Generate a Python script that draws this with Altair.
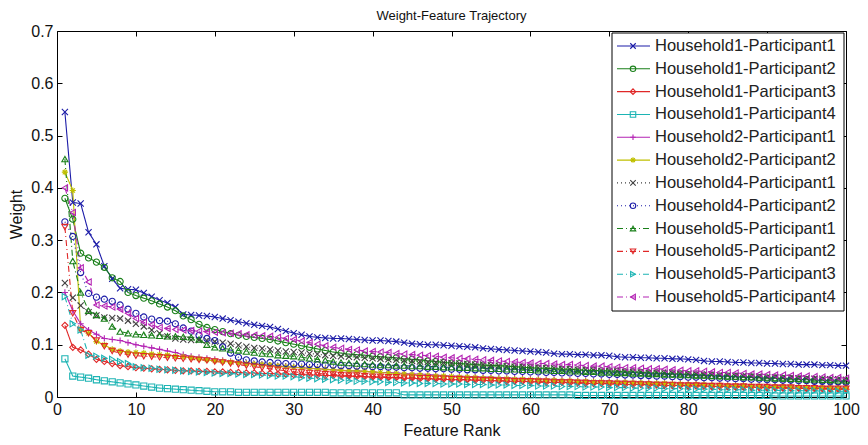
import altair as alt
import pandas as pd

FONT = "Liberation Sans, Arial, Helvetica, sans-serif"

ranks = list(range(1, 101))

series_names = [
    "Household1-Participant1", "Household1-Participant2", "Household1-Participant3",
    "Household1-Participant4", "Household2-Participant1", "Household2-Participant2",
    "Household4-Participant1", "Household4-Participant2", "Household5-Participant1",
    "Household5-Participant2", "Household5-Participant3", "Household5-Participant4",
]

h1p1 = [0.545,0.372,0.370,0.315,0.292,0.250,0.226,0.208,0.206,0.205,
        0.199,0.192,0.185,0.180,0.172,0.158,0.157,0.156,0.155,0.153,
        0.150,0.147,0.144,0.141,0.138,0.136,0.134,0.130,0.126,0.122,
        0.119,0.116,0.114,0.113,0.112,0.112,0.111,0.110,0.109,0.108,
        0.108,0.107,0.106,0.104,0.102,0.101,0.100,0.100,0.099,0.098,
        0.097,0.096,0.095,0.093,0.092,0.091,0.090,0.089,0.088,0.087,
        0.086,0.085,0.083,0.082,0.082,0.081,0.081,0.080,0.080,0.079,
        0.077,0.076,0.076,0.075,0.075,0.074,0.074,0.073,0.073,0.072,
        0.071,0.069,0.068,0.068,0.067,0.066,0.066,0.065,0.065,0.064,
        0.064,0.063,0.063,0.062,0.062,0.062,0.061,0.061,0.060,0.060]

h1p2 = [0.380,0.340,0.275,0.266,0.258,0.248,0.228,0.221,0.200,0.194,
        0.189,0.184,0.178,0.172,0.165,0.155,0.148,0.139,0.133,0.129,
        0.125,0.121,0.118,0.116,0.114,0.112,0.110,0.107,0.104,0.101,
        0.098,0.095,0.092,0.089,0.086,0.084,0.082,0.081,0.080,0.078,
        0.077,0.076,0.075,0.073,0.072,0.071,0.069,0.068,0.066,0.065,
        0.064,0.063,0.062,0.061,0.060,0.060,0.059,0.058,0.057,0.056,
        0.055,0.055,0.054,0.053,0.053,0.052,0.051,0.051,0.050,0.050,
        0.049,0.048,0.048,0.047,0.046,0.046,0.045,0.044,0.044,0.043,
        0.042,0.042,0.041,0.040,0.040,0.039,0.038,0.038,0.037,0.036,
        0.036,0.035,0.034,0.034,0.033,0.032,0.032,0.031,0.030,0.030]

h1p3 = [0.137,0.095,0.090,0.082,0.072,0.068,0.064,0.060,0.058,0.056,
        0.055,0.054,0.053,0.052,0.051,0.050,0.050,0.049,0.049,0.048,
        0.048,0.047,0.047,0.046,0.046,0.045,0.045,0.044,0.044,0.043,
        0.043,0.042,0.042,0.041,0.041,0.040,0.040,0.039,0.039,0.038,
        0.038,0.037,0.037,0.036,0.036,0.035,0.035,0.034,0.034,0.033,
        0.033,0.033,0.032,0.032,0.031,0.031,0.030,0.030,0.030,0.029,
        0.029,0.028,0.028,0.028,0.027,0.027,0.026,0.026,0.026,0.025,
        0.025,0.024,0.024,0.024,0.023,0.023,0.022,0.022,0.022,0.021,
        0.021,0.021,0.020,0.020,0.020,0.019,0.019,0.019,0.018,0.018,
        0.018,0.017,0.017,0.017,0.016,0.016,0.016,0.015,0.015,0.015]

h1p4 = [0.073,0.040,0.038,0.036,0.033,0.031,0.029,0.027,0.025,0.023,
        0.021,0.019,0.017,0.016,0.015,0.014,0.013,0.012,0.011,0.010,
        0.010,0.010,0.009,0.009,0.009,0.009,0.009,0.009,0.009,0.009,
        0.009,0.009,0.009,0.009,0.008,0.008,0.008,0.008,0.008,0.008,
        0.008,0.008,0.008,0.004,0.004,0.004,0.004,0.004,0.004,0.004,
        0.004,0.004,0.004,0.004,0.004,0.004,0.004,0.004,0.004,0.004,
        0.004,0.004,0.004,0.004,0.004,0.003,0.003,0.003,0.003,0.003,
        0.003,0.003,0.003,0.003,0.003,0.003,0.003,0.003,0.003,0.003,
        0.003,0.003,0.003,0.003,0.003,0.003,0.003,0.003,0.003,0.003,
        0.002,0.002,0.002,0.002,0.002,0.002,0.002,0.002,0.002,0.002]

h2p1 = [0.200,0.165,0.140,0.128,0.120,0.112,0.110,0.108,0.104,0.100,
        0.097,0.094,0.091,0.088,0.085,0.081,0.078,0.076,0.074,0.072,
        0.070,0.068,0.066,0.065,0.063,0.062,0.060,0.059,0.058,0.057,
        0.056,0.055,0.054,0.053,0.052,0.051,0.050,0.050,0.049,0.048,
        0.047,0.047,0.046,0.045,0.044,0.044,0.043,0.042,0.041,0.040,
        0.040,0.039,0.039,0.038,0.038,0.037,0.037,0.036,0.036,0.035,
        0.035,0.034,0.034,0.033,0.033,0.032,0.032,0.031,0.031,0.030,
        0.030,0.030,0.029,0.029,0.028,0.028,0.028,0.027,0.027,0.026,
        0.026,0.026,0.025,0.025,0.024,0.024,0.024,0.023,0.023,0.022,
        0.022,0.022,0.021,0.021,0.021,0.020,0.020,0.020,0.019,0.019]

h2p2 = [0.430,0.395,0.130,0.122,0.106,0.100,0.091,0.088,0.086,0.085,
        0.084,0.082,0.081,0.080,0.078,0.077,0.075,0.073,0.071,0.069,
        0.068,0.067,0.066,0.064,0.063,0.062,0.061,0.059,0.058,0.057,
        0.056,0.055,0.054,0.053,0.052,0.051,0.050,0.050,0.049,0.048,
        0.047,0.046,0.045,0.044,0.043,0.042,0.041,0.040,0.040,0.039,
        0.038,0.038,0.037,0.036,0.036,0.035,0.035,0.034,0.034,0.033,
        0.033,0.032,0.032,0.031,0.031,0.030,0.030,0.029,0.029,0.028,
        0.028,0.028,0.027,0.027,0.026,0.026,0.026,0.025,0.025,0.024,
        0.024,0.024,0.023,0.023,0.022,0.022,0.022,0.021,0.021,0.020,
        0.020,0.020,0.019,0.019,0.019,0.018,0.018,0.018,0.017,0.017]

h4p1 = [0.218,0.190,0.175,0.162,0.156,0.152,0.151,0.150,0.146,0.140,
        0.135,0.128,0.122,0.116,0.112,0.110,0.109,0.109,0.108,0.106,
        0.104,0.102,0.099,0.096,0.094,0.093,0.091,0.089,0.087,0.086,
        0.085,0.083,0.082,0.080,0.079,0.078,0.077,0.076,0.075,0.074,
        0.073,0.072,0.071,0.070,0.069,0.068,0.067,0.066,0.066,0.065,
        0.064,0.063,0.062,0.062,0.061,0.060,0.059,0.058,0.058,0.057,
        0.056,0.055,0.055,0.054,0.053,0.052,0.052,0.051,0.050,0.050,
        0.049,0.048,0.048,0.047,0.046,0.046,0.045,0.045,0.044,0.043,
        0.043,0.042,0.042,0.041,0.041,0.040,0.040,0.039,0.039,0.038,
        0.038,0.037,0.037,0.036,0.036,0.035,0.035,0.034,0.034,0.033]

h4p2 = [0.335,0.307,0.238,0.198,0.191,0.187,0.183,0.176,0.168,0.160,
        0.153,0.149,0.146,0.145,0.140,0.132,0.126,0.118,0.112,0.108,
        0.096,0.084,0.076,0.071,0.069,0.067,0.066,0.065,0.064,0.063,
        0.063,0.062,0.062,0.061,0.061,0.060,0.060,0.059,0.059,0.058,
        0.058,0.057,0.057,0.056,0.056,0.055,0.055,0.054,0.054,0.053,
        0.053,0.052,0.052,0.051,0.051,0.050,0.050,0.049,0.049,0.048,
        0.048,0.047,0.047,0.046,0.046,0.045,0.045,0.044,0.044,0.043,
        0.043,0.042,0.042,0.041,0.041,0.040,0.040,0.039,0.039,0.038,
        0.038,0.037,0.037,0.036,0.036,0.035,0.035,0.034,0.034,0.033,
        0.033,0.032,0.032,0.031,0.031,0.030,0.030,0.029,0.029,0.028]

h5p1 = [0.455,0.260,0.200,0.165,0.157,0.150,0.135,0.125,0.122,0.120,
        0.119,0.118,0.117,0.116,0.116,0.115,0.114,0.110,0.100,0.095,
        0.093,0.091,0.089,0.087,0.085,0.083,0.082,0.080,0.079,0.078,
        0.076,0.074,0.072,0.070,0.068,0.066,0.065,0.064,0.063,0.062,
        0.061,0.061,0.060,0.060,0.059,0.059,0.058,0.058,0.057,0.057,
        0.056,0.056,0.055,0.055,0.054,0.054,0.053,0.053,0.052,0.052,
        0.051,0.051,0.050,0.050,0.049,0.049,0.048,0.048,0.047,0.047,
        0.046,0.046,0.045,0.045,0.044,0.044,0.043,0.043,0.042,0.042,
        0.041,0.041,0.040,0.040,0.039,0.039,0.038,0.038,0.037,0.037,
        0.036,0.036,0.035,0.035,0.034,0.034,0.033,0.033,0.032,0.032]

h5p2 = [0.325,0.160,0.128,0.122,0.108,0.097,0.088,0.084,0.081,0.079,
        0.078,0.077,0.076,0.075,0.074,0.073,0.072,0.071,0.070,0.068,
        0.066,0.064,0.062,0.060,0.058,0.056,0.054,0.052,0.050,0.048,
        0.047,0.046,0.045,0.044,0.043,0.042,0.041,0.041,0.040,0.039,
        0.039,0.038,0.038,0.037,0.037,0.036,0.036,0.035,0.035,0.034,
        0.034,0.033,0.033,0.032,0.032,0.031,0.031,0.030,0.030,0.030,
        0.029,0.029,0.028,0.028,0.028,0.027,0.027,0.026,0.026,0.026,
        0.025,0.025,0.025,0.024,0.024,0.023,0.023,0.023,0.022,0.022,
        0.022,0.021,0.021,0.021,0.020,0.020,0.020,0.019,0.019,0.019,
        0.018,0.018,0.018,0.017,0.017,0.017,0.016,0.016,0.016,0.016]

h5p3 = [0.192,0.140,0.128,0.080,0.078,0.074,0.072,0.068,0.064,0.058,
        0.056,0.055,0.053,0.052,0.051,0.050,0.049,0.048,0.047,0.046,
        0.045,0.045,0.044,0.043,0.043,0.042,0.041,0.040,0.040,0.039,
        0.037,0.036,0.035,0.034,0.033,0.032,0.031,0.030,0.030,0.029,
        0.029,0.028,0.028,0.027,0.027,0.026,0.026,0.026,0.025,0.025,
        0.025,0.024,0.024,0.024,0.023,0.023,0.023,0.022,0.022,0.022,
        0.021,0.021,0.021,0.020,0.020,0.020,0.019,0.019,0.019,0.018,
        0.018,0.018,0.017,0.017,0.017,0.017,0.016,0.016,0.016,0.015,
        0.015,0.015,0.015,0.014,0.014,0.014,0.014,0.013,0.013,0.013,
        0.013,0.012,0.012,0.012,0.012,0.012,0.011,0.011,0.011,0.011]

h5p4 = [0.400,0.353,0.247,0.220,0.176,0.174,0.172,0.168,0.160,0.150,
        0.143,0.138,0.133,0.131,0.129,0.128,0.127,0.126,0.125,0.124,
        0.123,0.122,0.121,0.119,0.118,0.117,0.116,0.114,0.112,0.110,
        0.107,0.104,0.101,0.098,0.095,0.093,0.091,0.090,0.088,0.087,
        0.086,0.085,0.083,0.082,0.081,0.080,0.079,0.078,0.076,0.075,
        0.074,0.073,0.072,0.071,0.070,0.069,0.068,0.067,0.066,0.065,
        0.064,0.064,0.063,0.062,0.062,0.061,0.060,0.059,0.059,0.058,
        0.057,0.056,0.056,0.055,0.054,0.054,0.053,0.052,0.051,0.050,
        0.050,0.049,0.048,0.047,0.047,0.046,0.045,0.044,0.044,0.043,
        0.042,0.042,0.041,0.040,0.040,0.039,0.038,0.037,0.037,0.036]

all_values = [h1p1, h1p2, h1p3, h1p4, h2p1, h2p2, h4p1, h4p2, h5p1, h5p2, h5p3, h5p4]

colors = ["#1c1ca8", "#1a801a", "#e02828", "#1cb4b4", "#b424b4", "#c0c000",
          "#404040", "#1c1ca8", "#1a801a", "#e02828", "#1cb4b4", "#b424b4"]

X_PATH = "M-1,-1L1,1M-1,1L1,-1"
PLUS_PATH = "M-1,0L1,0M0,-1L0,1"
STAR_PATH = "M-1,0L1,0M0,-1L0,1M-0.7,-0.7L0.7,0.7M-0.7,0.7L0.7,-0.7"
shapes = [X_PATH, "circle", "diamond", "square", PLUS_PATH, STAR_PATH,
          X_PATH, "circle", "triangle-up", "triangle-down", "triangle-right", "triangle-left"]

SOLID = [1, 0]
DOT = [1, 3]
DASHDOT = [6, 3, 1, 3]
dashes = [SOLID, SOLID, SOLID, SOLID, SOLID, SOLID, DOT, DOT, DASHDOT, DASHDOT, DASHDOT, DASHDOT]

rows = []
for name, vals in zip(series_names, all_values):
    for r, v in zip(ranks, vals):
        rows.append({"series": name, "rank": r, "weight": v})
df = pd.DataFrame(rows)
leg = pd.DataFrame({"series": series_names})

color_scale = alt.Scale(domain=series_names, range=colors)
shape_scale = alt.Scale(domain=series_names, range=shapes)
dash_scale = alt.Scale(domain=series_names, range=dashes)

xs = alt.Scale(domain=[0, 100], nice=False, zero=False)
ys = alt.Scale(domain=[0, 0.7], nice=False)

x_ticks = list(range(0, 101, 10))
y_ticks = [0, 0.1, 0.2, 0.3, 0.4, 0.5, 0.6, 0.7]

common = dict(grid=False, domain=False, tickColor="black", tickSize=5, offset=-5,
              labelColor="#111111", labelFont=FONT, labelFontSize=16, labelFlush=False,
              titleFont=FONT, titleFontSize=16, titleColor="#111111", titleFontWeight="normal")

color_enc = alt.Color("series:N", scale=color_scale, legend=None)

lines = alt.Chart(df).mark_line(strokeWidth=1.1).encode(
    x=alt.X("rank:Q", scale=xs,
            axis=alt.Axis(orient="bottom", values=x_ticks, format="d", title="Feature Rank",
                          labelPadding=4, titlePadding=5, **common)),
    y=alt.Y("weight:Q", scale=ys,
            axis=alt.Axis(orient="left", values=y_ticks, format=".1~f", title="Weight",
                          labelPadding=4, titlePadding=6, **common)),
    color=color_enc,
    strokeDash=alt.StrokeDash("series:N", scale=dash_scale, legend=None),
)

points = alt.Chart(df).mark_point(filled=False, size=38, strokeWidth=1.1, opacity=1).encode(
    x=alt.X("rank:Q", scale=xs,
            axis=alt.Axis(orient="top", values=x_ticks, labels=False, title="", **common)),
    y=alt.Y("weight:Q", scale=ys,
            axis=alt.Axis(orient="right", values=y_ticks, labels=False, title="", **common)),
    color=color_enc,
    shape=alt.Shape("series:N", scale=shape_scale, legend=None),
)

ly = alt.Y("series:N",
           scale=alt.Scale(type="point", domain=series_names, range=[15, 266], padding=0),
           axis=None)

box = alt.Chart(pd.DataFrame({"b": [0]})).mark_rect(fill="white", stroke="black", strokeWidth=1).encode(
    x=alt.value(555), x2=alt.value(787), y=alt.value(2), y2=alt.value(280)
)

leg_rule = alt.Chart(leg).mark_rule(strokeWidth=1.1).encode(
    x=alt.value(560), x2=alt.value(593), y=ly, color=color_enc,
    strokeDash=alt.StrokeDash("series:N", scale=dash_scale, legend=None),
)

leg_pt = alt.Chart(leg).mark_point(filled=False, size=30, strokeWidth=1.1, opacity=1).encode(
    x=alt.value(576), y=ly, color=color_enc,
    shape=alt.Shape("series:N", scale=shape_scale, legend=None),
)

leg_text = alt.Chart(leg).mark_text(align="left", baseline="middle", font=FONT, fontSize=16.5,
                                    color="#222222").encode(
    x=alt.value(598), y=ly, text="series:N"
)

chart = alt.layer(lines, points, box, leg_rule, leg_pt, leg_text).resolve_scale(
    y="independent"
).resolve_axis(
    x="independent", y="independent"
).properties(
    width=789, height=366,
    title=alt.Title("Weight-Feature Trajectory", font=FONT, fontSize=13, fontWeight="normal",
                    color="#111111", anchor="middle", offset=0),
    padding={"left": 49, "top": 23, "right": 14, "bottom": 46},
    autosize=alt.AutoSizeParams(type="none"),
    background="white",
).configure_view(stroke="black", strokeWidth=1)

chart.save("out.html", embed_options={"renderer": "svg", "actions": False})
